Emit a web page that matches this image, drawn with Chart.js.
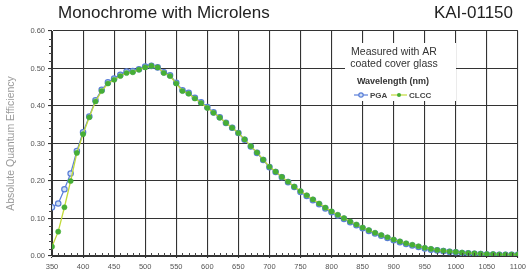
<!DOCTYPE html>
<html>
<head>
<meta charset="utf-8">
<script src="https://cdn.jsdelivr.net/npm/chart.js@4/dist/chart.umd.min.js"></script>
<style>
    body { margin: 0; background: #fff; }
    #wrap { position: relative; width: 530px; height: 273px; }
    #qeChart { position: absolute; left: 0; top: 0; }
    .title { position: absolute; top: 3px; font: 17px "Liberation Sans", Arial, sans-serif; color: #222; }
</style>
</head>
<body>
<div id="wrap">
    <canvas id="qeChart" width="530" height="273"></canvas>
    <div class="title" style="left:58px">Monochrome with Microlens</div>
    <div class="title" style="right:17px">KAI-01150</div>
</div>
<script>
// wavelength in nm, one point every 10 nm
const wavelengths = [];
for (let w = 350; w <= 1100; w += 10) wavelengths.push(w);

const pga = [
    0.130, 0.140, 0.178, 0.220, 0.280, 0.330, 0.372, 0.415, 0.443, 0.463,
    0.473, 0.483, 0.492, 0.493, 0.498, 0.505, 0.507, 0.503, 0.490, 0.482,
    0.462, 0.442, 0.435, 0.422, 0.410, 0.397, 0.383, 0.370, 0.355, 0.342,
    0.328, 0.310, 0.292, 0.275, 0.256, 0.237, 0.224, 0.210, 0.197, 0.184,
    0.171, 0.160, 0.149, 0.138, 0.127, 0.117, 0.108, 0.099, 0.090, 0.082,
    0.074, 0.067, 0.060, 0.054, 0.048, 0.042, 0.037, 0.032, 0.028, 0.024,
    0.020, 0.017, 0.015, 0.013, 0.011, 0.010, 0.008, 0.007, 0.006, 0.005,
    0.004, 0.004, 0.003, 0.003, 0.003, 0.003
];

const clcc = [
    0.025, 0.065, 0.130, 0.200, 0.275, 0.325, 0.370, 0.412, 0.440, 0.460,
    0.470, 0.480, 0.488, 0.490, 0.497, 0.503, 0.507, 0.503, 0.488, 0.480,
    0.460, 0.440, 0.433, 0.420, 0.408, 0.395, 0.382, 0.369, 0.355, 0.342,
    0.328, 0.311, 0.293, 0.276, 0.257, 0.238, 0.225, 0.211, 0.198, 0.185,
    0.173, 0.162, 0.151, 0.140, 0.129, 0.119, 0.110, 0.101, 0.092, 0.084,
    0.076, 0.069, 0.062, 0.056, 0.050, 0.044, 0.039, 0.034, 0.030, 0.026,
    0.022, 0.019, 0.016, 0.014, 0.012, 0.011, 0.009, 0.008, 0.007, 0.006,
    0.005, 0.005, 0.004, 0.004, 0.004, 0.004
];

const xTicks = [350, 1100, 50];   // min, max, step
const yTicks = [0, 0.6, 0.1];

const pgaColor = '#5a7ed8';
const clccLine = '#c2da3a';
const clccPoint = '#46ae36';
const fontFamily = '"Liberation Sans", Arial, sans-serif';

const toPoints = vals => wavelengths.map((w, i) => ({ x: w, y: vals[i] }));

// legend box + minor ticks, drawn on the canvas
const extras = {
    id: 'extras',
    afterDraw(chart) {
        const ctx = chart.ctx;
        const xs = chart.scales.x, ys = chart.scales.y;
        const area = chart.chartArea;
        ctx.save();
        ctx.strokeStyle = '#444';
        ctx.lineWidth = 1;
        ctx.beginPath();
        for (let w = xTicks[0]; w <= xTicks[1]; w += 10) {
            if (w % 50 === 0) continue;
            const px = Math.round(xs.getPixelForValue(w)) + 0.5;
            ctx.moveTo(px, area.bottom);
            ctx.lineTo(px, area.bottom - 3);
        }
        for (let v = 0; v <= 60; v += 2) {
            if (v % 10 === 0) continue;
            const py = Math.round(ys.getPixelForValue(v / 100)) + 0.5;
            ctx.moveTo(area.left, py);
            ctx.lineTo(area.left - 3, py);
        }
        ctx.stroke();

        // legend box
        ctx.fillStyle = '#fff';
        ctx.fillRect(345, 43, 111, 58);
        ctx.fillStyle = '#333';
        ctx.textAlign = 'center';
        ctx.textBaseline = 'middle';
        ctx.font = '10.5px ' + fontFamily;
        ctx.fillText('Measured with AR', 394, 52);
        ctx.fillText('coated cover glass', 394, 64);
        ctx.font = 'bold 9px ' + fontFamily;
        ctx.fillText('Wavelength (nm)', 393, 82);

        ctx.textAlign = 'left';
        ctx.font = 'bold 8px ' + fontFamily;
        // PGA entry
        ctx.strokeStyle = pgaColor;
        ctx.lineWidth = 1.2;
        ctx.beginPath(); ctx.moveTo(354, 95); ctx.lineTo(368, 95); ctx.stroke();
        ctx.beginPath(); ctx.arc(361, 95, 2.2, 0, Math.PI * 2);
        ctx.fillStyle = '#cfe0f5'; ctx.fill(); ctx.stroke();
        ctx.fillStyle = '#444';
        ctx.fillText('PGA', 370, 95.5);
        // CLCC entry
        ctx.strokeStyle = clccLine;
        ctx.beginPath(); ctx.moveTo(391, 95); ctx.lineTo(407, 95); ctx.stroke();
        ctx.beginPath(); ctx.arc(399, 95, 2, 0, Math.PI * 2);
        ctx.fillStyle = clccPoint; ctx.fill();
        ctx.fillStyle = '#444';
        ctx.fillText('CLCC', 409, 95.5);
        ctx.restore();
    }
};

const tickFont = { family: fontFamily, size: 7.5 };

new Chart(document.getElementById('qeChart'), {
    type: 'line',
    data: {
        datasets: [
            {
                label: 'PGA',
                data: toPoints(pga),
                borderColor: pgaColor,
                borderWidth: 1.2,
                pointRadius: 2.7,
                pointBorderWidth: 1.2,
                pointBorderColor: pgaColor,
                pointBackgroundColor: '#cfe0f5',
                order: 1
            },
            {
                label: 'CLCC',
                data: toPoints(clcc),
                borderColor: clccLine,
                borderWidth: 1.3,
                pointRadius: 2.6,
                pointBorderWidth: 0.5,
                pointBorderColor: clccPoint,
                pointBackgroundColor: clccPoint,
                order: 0
            }
        ]
    },
    options: {
        responsive: false,
        animation: false,
        layout: { padding: { top: 31, right: 8, left: 0, bottom: 0 } },
        plugins: {
            legend: { display: false },
            tooltip: { enabled: false }
        },
        scales: {
            x: {
                type: 'linear',
                min: xTicks[0],
                max: xTicks[1],
                afterFit: s => { s.height = 17; },
                ticks: {
                    stepSize: xTicks[2],
                    font: tickFont,
                    color: '#555',
                    padding: 4,
                    maxRotation: 0,
                    callback: v => String(v)
                },
                grid: { color: '#333', lineWidth: 1.1, tickLength: 2 },
                border: { color: '#333' }
            },
            y: {
                min: yTicks[0],
                max: yTicks[1],
                afterFit: s => { s.width = 52; },
                ticks: {
                    stepSize: yTicks[2],
                    font: tickFont,
                    color: '#555',
                    padding: 3,
                    callback: v => v.toFixed(2)
                },
                grid: { color: '#333', lineWidth: 1.1, tickLength: 4 },
                border: { color: '#333' },
                title: {
                    display: true,
                    text: 'Absolute Quantum Efficiency',
                    color: '#9a9a9a',
                    font: { family: fontFamily, size: 10.5 },
                    padding: { top: 5, bottom: 0 }
                }
            }
        }
    },
    plugins: [extras]
});
</script>
</body>
</html>
